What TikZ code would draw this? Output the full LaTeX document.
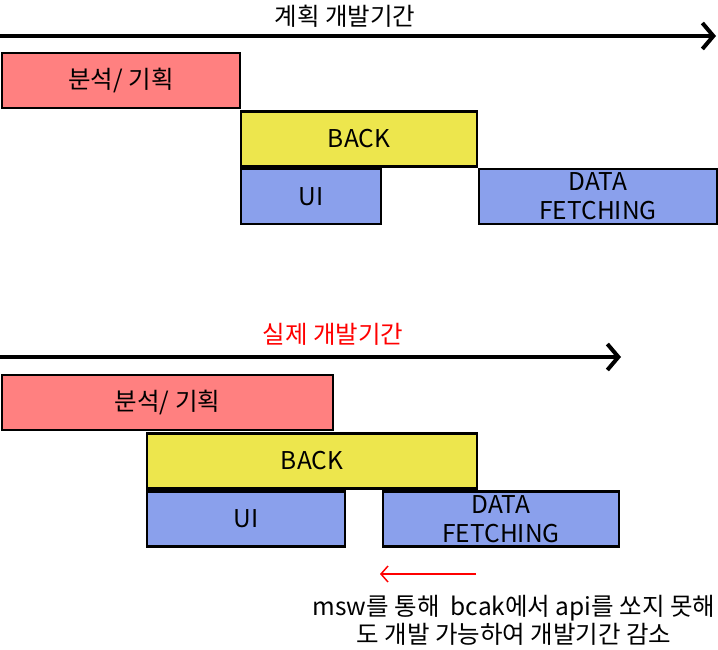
\documentclass[tikz,border=0pt]{standalone}
\usepackage{fontspec}
\setmainfont{Noto Sans CJK KR}
\usetikzlibrary{arrows.meta}
\definecolor{planred}{RGB}{255,128,128}
\definecolor{backyellow}{RGB}{237,230,77}
\definecolor{uiblue}{RGB}{138,160,236}
\tikzset{
  task/.style={draw, line width=2.5pt, minimum height=55pt, inner sep=0pt, align=center,
    font=\fontsize{24.5pt}{29pt}\selectfont},
  plan/.style={task, fill=planred},
  back/.style={task, fill=backyellow},
  front/.style={task, fill=uiblue},
  timeline/.style={line width=4pt, -{Straight Barb[length=11pt, width=26pt]}},
  gain/.style={red, line width=1.5pt, -{Straight Barb[length=7pt, width=16pt]}}
}
\begin{document}
\begin{tikzpicture}[x=1pt, y=-1pt]
		\useasboundingbox (0,0) rectangle (718,650);

		\coordinate (p0) at (0,36);
		\coordinate (p1) at (716,36);
		\draw[timeline] (p0) -- (p1);
		\node[font=\fontsize{24.5pt}{24.5pt}\selectfont] (ptitle) at (345,16) {계획 개발기간};

		\node[plan, minimum width=238pt] (pplan) at (121,80.5) {분석/ 기획};
		\node[back, minimum width=236pt] (pback) at (359,139) {BACK};
		\node[front, minimum width=140pt] (pui) at (311,196.5) {UI};
		\node[front, minimum width=238pt] (pdata) at (598,196.5) {DATA\\FETCHING};

		\coordinate (r0) at (0,357);
		\coordinate (r1) at (621,357);
		\draw[timeline] (r0) -- (r1);
		\node[red, font=\fontsize{24.5pt}{24.5pt}\selectfont] (rtitle) at (333,334) {실제 개발기간};

		\node[plan, minimum width=331pt] (rplan) at (167.5,402.5) {분석/ 기획};
		\node[back, minimum width=330pt] (rback) at (312,461) {BACK};
		\node[front, minimum width=198pt] (rui) at (246,519) {UI};
		\node[front, minimum width=236pt] (rdata) at (501,519) {DATA\\FETCHING};

		\coordinate (g0) at (476,574);
		\coordinate (g1) at (380,574);
		\draw[gain] (g0) -- (g1);

		\node[align=center, font=\fontsize{24.5pt}{28pt}\selectfont] (note) at (514,620) {msw를 통해~ bcak에서 api를 쏘지 못해\\도 개발 가능하여 개발기간 감소};
	\end{tikzpicture}
\end{document}
